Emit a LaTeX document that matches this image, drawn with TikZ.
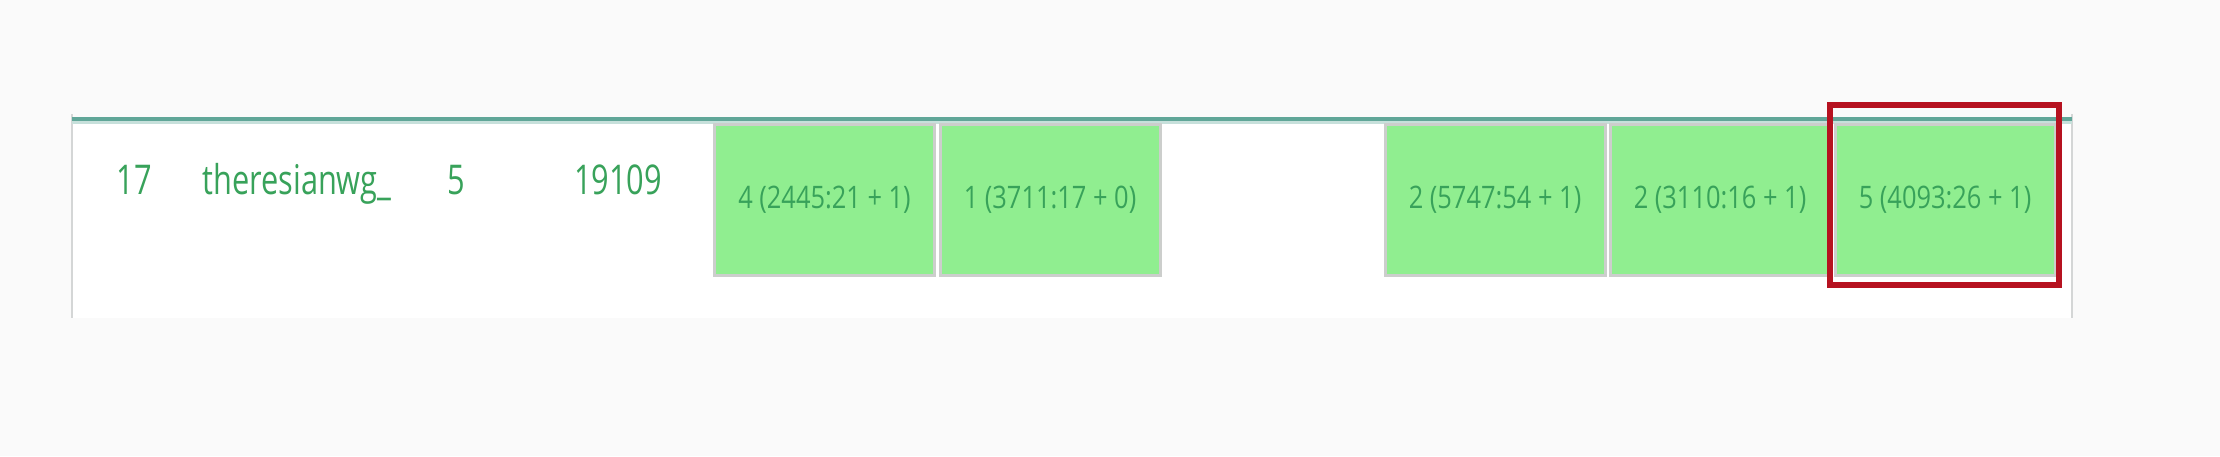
\documentclass[tikz,border=0pt]{standalone}
\usepackage{fontspec}
\newfontfamily\rowfont[FakeStretch=0.75]{Open Sans}
\newfontfamily\cellfont[FakeStretch=0.82]{Open Sans}
\definecolor{rowgreen}{RGB}{56,162,90}
\definecolor{cellgreen}{RGB}{144,238,144}
\definecolor{cellgray}{RGB}{204,206,204}
\definecolor{edgegray}{RGB}{212,214,214}
\definecolor{topteal}{RGB}{96,166,152}
\definecolor{markred}{RGB}{182,18,32}
\definecolor{pagebg}{RGB}{250,250,250}

\tikzset{
	rowtext/.style={text=rowgreen, font=\rowfont\fontsize{20.5}{24}\selectfont, inner sep=0pt},
	cell/.style={fill=cellgreen, draw=cellgray, line width=1.5pt, minimum width=110pt, minimum height=75.5pt, inner sep=0pt, text=rowgreen, font=\cellfont\fontsize{15.5}{18}\selectfont}
}

\begin{document}
\begin{tikzpicture}[x=0.5pt, y=-0.5pt]

		%page and panel
		\fill[pagebg] (0,0) rectangle (2220,456);
		\useasboundingbox (0,0) rectangle (2220,456);
		\fill[white] (72,117) rectangle (2072,318);
		\draw[edgegray, line width=1pt] (72,114) -- (72,318);
		\draw[edgegray, line width=1pt] (2072,114) -- (2072,318);
		\draw[topteal!35, line width=2pt] (72,122) -- (2072,122);
		\draw[topteal, line width=2pt] (72,119) -- (2072,119);

		%row entries
		\node[rowtext, anchor=base] (rank) at (134,194) {17};
		\node[rowtext, anchor=base west] (player) at (202,194) {theresianwg\_};
		\node[rowtext, anchor=base] (solved) at (456,194) {5};
		\node[rowtext, anchor=base] (score) at (618,194) {19109};

		%task cells
		\node[cell] (t1) at (824.5,200) {4 (2445:21 + 1)};
		\node[cell] (t2) at (1050,200) {1 (3711:17 + 0)};
		\node[cell] (t4) at (1495,200) {2 (5747:54 + 1)};
		\node[cell] (t5) at (1720,200) {2 (3110:16 + 1)};
		\node[cell] (t6) at (1945,200) {5 (4093:26 + 1)};

		%highlight box
		\draw[markred, line width=3pt] (1830,105) rectangle (2059,285);

	\end{tikzpicture}
\end{document}
